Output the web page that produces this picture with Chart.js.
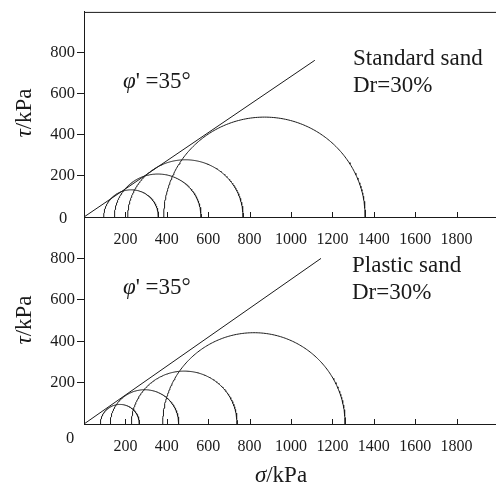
<!DOCTYPE html>
<html>
<head>
<meta charset="utf-8">
<script src="https://cdn.jsdelivr.net/npm/chart.js@4.4.1/dist/chart.umd.min.js"></script>
<style>
  html, body { margin: 0; padding: 0; background: #fff; overflow: hidden; width: 496px; height: 486px; }
  canvas { position: absolute; left: 0; }
</style>
</head>
<body>
<canvas id="standardChart" width="500" height="250" style="top:0"></canvas>
<canvas id="plasticChart" width="500" height="292" style="top:200px"></canvas>
<script>
// tick labels
const xTickValues = [200, 400, 600, 800, 1000, 1200, 1400, 1600, 1800];
const yTickValues = [200, 400, 600, 800];

// Mohr circles (kPa)
const standardSigma3 = [95, 147, 211, 385];
const standardSigma1 = [360, 566, 769, 1359];
const standardEnvelopeSigma = [0, 1115];
const standardEnvelopeTau = [0, 764];

const plasticSigma3 = [79, 127, 229, 380];
const plasticSigma1 = [268, 458, 740, 1262];
const plasticEnvelopeSigma = [0, 1145];
const plasticEnvelopeTau = [0, 800];

const INK = '#1a1a1a';
const SERIF = '"Liberation Serif", "DejaVu Serif", serif';

// upper half of a Mohr circle between sigma3 and sigma1
const semicircle = (s3, s1) => {
    const c = (s1 + s3) / 2;
    const r = (s1 - s3) / 2;
    const pts = [];
    for (let i = 0; i <= 180; i++) {
        const a = Math.PI * i / 180;
        pts.push({ x: c - r * Math.cos(a), y: r * Math.sin(a) });
    }
    return pts;
};

// draws text made of runs (some italic) starting at x
const drawRuns = (ctx, runs, x, y, size, align) => {
    const fontOf = (r) => (r.italic ? 'italic ' : '') + size + 'px ' + SERIF;
    let total = 0;
    runs.forEach(r => { ctx.font = fontOf(r); total += ctx.measureText(r.t).width; });
    let cx = align === 'center' ? x - total / 2 : x;
    ctx.textAlign = 'left';
    ctx.textBaseline = 'alphabetic';
    runs.forEach(r => {
        ctx.font = fontOf(r);
        ctx.fillText(r.t, cx, y);
        cx += ctx.measureText(r.t).width;
    });
};

const panelDecor = {
    id: 'panelDecor',
    afterDraw(chart, args, opts) {
        const { ctx, chartArea, scales } = chart;
        ctx.save();
        ctx.strokeStyle = INK;
        ctx.lineWidth = 1;

        if (opts.topBorder) {
            ctx.beginPath();
            ctx.moveTo(chartArea.left, chartArea.top + 0.5);
            ctx.lineTo(chartArea.right, chartArea.top + 0.5);
            ctx.stroke();
        }

        // inward tick marks on the sigma axis
        ctx.beginPath();
        scales.x.ticks.forEach(t => {
            const px = Math.round(scales.x.getPixelForValue(t.value)) + 0.5;
            ctx.moveTo(px, chartArea.bottom);
            ctx.lineTo(px, chartArea.bottom - 5);
        });
        ctx.stroke();

        ctx.fillStyle = INK;
        (opts.texts || []).forEach(tx => {
            if (tx.rotate) {
                ctx.save();
                ctx.translate(tx.x, tx.y);
                ctx.rotate(-Math.PI / 2);
                drawRuns(ctx, tx.runs, 0, 0, tx.size, 'center');
                ctx.restore();
            } else {
                drawRuns(ctx, tx.runs, tx.x, tx.y, tx.size, tx.align || 'left');
            }
        });
        ctx.restore();
    }
};

const buildPanel = (canvasId, sigma3, sigma1, envSigma, envTau, padTop, canvasHeight, decor) => {
    const datasets = sigma3.map((s3, i) => ({
        data: semicircle(s3, sigma1[i]),
        showLine: true,
        borderColor: INK,
        borderWidth: 1,
        pointRadius: 0,
        tension: 0,
        fill: false
    }));
    datasets.push({
        data: envSigma.map((s, i) => ({ x: s, y: envTau[i] })),
        showLine: true,
        borderColor: INK,
        borderWidth: 1,
        pointRadius: 0,
        fill: false
    });

    return new Chart(document.getElementById(canvasId), {
        type: 'scatter',
        data: { datasets },
        options: {
            responsive: false,
            animation: false,
            devicePixelRatio: 1,
            layout: { padding: { top: padTop, right: 2, left: 0, bottom: 0 } },
            plugins: {
                legend: { display: false },
                tooltip: { enabled: false },
                panelDecor: decor
            },
            scales: {
                x: {
                    type: 'linear',
                    min: 0,
                    max: 2000,
                    afterBuildTicks: s => { s.ticks = xTickValues.map(v => ({ value: v })); },
                    afterFit: s => { s.height = canvasHeight - padTop - 207; },
                    grid: { display: false },
                    border: { display: true, color: INK, width: 1 },
                    ticks: {
                        color: INK,
                        font: { family: SERIF, size: 16 },
                        padding: 5,
                        maxRotation: 0,
                        autoSkip: false,
                        callback: v => String(v)
                    }
                },
                y: {
                    type: 'linear',
                    min: 0,
                    max: 1000,
                    afterBuildTicks: s => { s.ticks = yTickValues.map(v => ({ value: v })); },
                    afterFit: s => { s.width = 84; },
                    grid: { display: true, drawOnChartArea: false, drawTicks: true, tickLength: 7, color: INK },
                    border: { display: true, color: INK, width: 1 },
                    ticks: {
                        color: INK,
                        font: { family: SERIF, size: 16.5 },
                        padding: 2,
                        autoSkip: false,
                        callback: v => String(v)
                    }
                }
            }
        },
        plugins: [panelDecor]
    });
};

buildPanel('standardChart', standardSigma3, standardSigma1, standardEnvelopeSigma, standardEnvelopeTau, 10, 250, {
    topBorder: true,
    texts: [
        { runs: [{ t: '\u03C6', italic: true }, { t: "' =35\u00B0" }], x: 123, y: 87.5, size: 23 },
        { runs: [{ t: 'Standard sand' }], x: 353, y: 65, size: 23 },
        { runs: [{ t: 'Dr=30%' }], x: 353, y: 92, size: 23 },
        { runs: [{ t: '0' }], x: 63, y: 223, size: 16.5, align: 'center' },
        { runs: [{ t: '\u03C4', italic: true }, { t: '/kPa' }], x: 31, y: 113, size: 23, rotate: true }
    ]
});

buildPanel('plasticChart', plasticSigma3, plasticSigma1, plasticEnvelopeSigma, plasticEnvelopeTau, 17, 292, {
    topBorder: false,
    texts: [
        { runs: [{ t: '\u03C6', italic: true }, { t: "' =35\u00B0" }], x: 123, y: 93.5, size: 23 },
        { runs: [{ t: 'Plastic sand' }], x: 352, y: 71.5, size: 23 },
        { runs: [{ t: 'Dr=30%' }], x: 352, y: 99, size: 23 },
        { runs: [{ t: '0' }], x: 70, y: 242.5, size: 16.5, align: 'center' },
        { runs: [{ t: '\u03C4', italic: true }, { t: '/kPa' }], x: 31, y: 120, size: 23, rotate: true },
        { runs: [{ t: '\u03C3', italic: true }, { t: '/kPa' }], x: 281, y: 282, size: 23, align: 'center' }
    ]
});
</script>
</body>
</html>
